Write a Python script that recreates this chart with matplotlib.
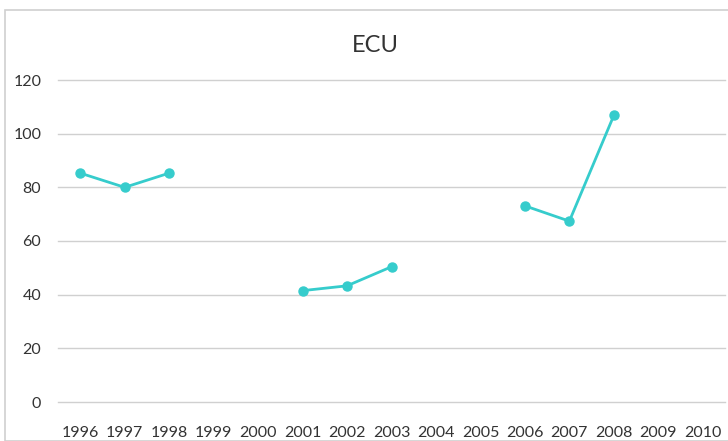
import matplotlib
matplotlib.use("Agg")
import matplotlib.pyplot as plt
import numpy as np
from matplotlib.patches import Rectangle

years = [str(y) for y in range(1996, 2011)]
values = [85.3, 80.0, 85.3, None, None, 41.5, 43.3, 50.4, None, None, 73.1, 67.4, 106.8, None, None]
yticks = [0, 20, 40, 60, 80, 100, 120]

plt.rcParams['font.family'] = ['Lato', 'DejaVu Sans']

fig = plt.figure(figsize=(7.28, 4.41), dpi=100)
fig.patch.set_facecolor('white')
W, H = 728, 441
fig.patches.append(Rectangle((5 / W, 0), 1.0, 1 - 10 / H, transform=fig.transFigure,
                             fill=False, edgecolor='#d0d0d0', linewidth=1.2))

ax = fig.add_axes([58 / W, 39 / H, (725 - 58) / W, (402 - 80) / H])
x = np.arange(len(years))
y = np.array([np.nan if v is None else v for v in values], dtype=float)

for t in yticks:
    ax.axhline(t, color='#d0d0d0', linewidth=1.0, zorder=0, clip_on=False)

ax.plot(x, y, color='#36CCCC', linewidth=2.0, marker='o', markersize=6.5, solid_capstyle='round', zorder=3)

ax.set_xlim(-0.5, len(years) - 0.5)
ax.set_ylim(0, 120)
ax.set_yticks(yticks)
ax.set_xticks(x)
ax.set_xticklabels(years)
for s in ax.spines.values():
    s.set_visible(False)
ax.tick_params(axis='both', length=0, labelsize=11.5, labelcolor='#333333')
ax.tick_params(axis='y', pad=12)
ax.tick_params(axis='x', pad=17)

fig.text(375 / W, 1 - 45 / H, 'ECU', ha='center', va='center', fontsize=17, color='#333333')

fig.savefig('out.png', dpi=100)
